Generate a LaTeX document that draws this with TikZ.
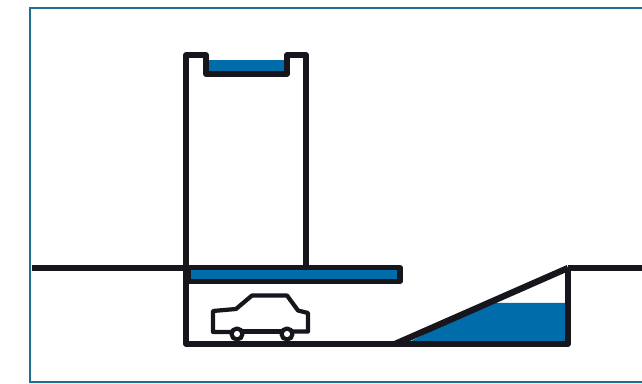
\documentclass[tikz,border=0pt]{standalone}
\usepackage{xcolor}
\usetikzlibrary{calc}
\definecolor{TankBlue}{RGB}{0,108,170}
\definecolor{FrameTeal}{RGB}{30,112,145}
\definecolor{WallBlack}{RGB}{22,22,28}

\begin{document}
\begin{tikzpicture}[
            wall/.style={WallBlack, line width=3pt, line join=round},
            thinwall/.style={WallBlack, line width=2.4pt, line join=round},
            tank/.style={fill=TankBlue, draw=none}
          ]
          \useasboundingbox (0,0) rectangle (12.84,7.68);
          % Frame, open on the right
          \draw[FrameTeal, line width=1.4pt] (12.84,7.52) -- (0.60,7.52) -- (0.60,0.04) -- (12.84,0.04);

          % Roof tank
          \fill[tank] (4.12,6.48) rectangle (5.76,6.20);
          % Ramp tank
          \fill[tank] (8.10,0.80) -- (9.76,1.62) -- (11.36,1.62) -- (11.36,0.80) -- cycle;

          % Ground
          \draw[wall] (0.64,2.32) -- (3.72,2.32);
          \draw[wall] (11.36,2.32) -- (12.84,2.32);

          % Building
          \draw[wall] (3.72,2.32) -- (3.72,6.58) -- (4.12,6.58) -- (4.12,6.20)
                -- (5.74,6.20) -- (5.74,6.58) -- (6.12,6.58) -- (6.12,2.32);

          % Floor slab
          \draw[wall, fill=TankBlue] (3.76,2.05) rectangle (8.00,2.33);

          % Basement and ramp
          \draw[wall] (3.72,2.32) -- (3.72,0.80) -- (11.36,0.80) -- (11.36,2.32);
          \draw[wall, line width=3.6pt] (7.90,0.80) -- (11.36,2.32);

          % Car
          \draw[thinwall] (4.74,1.04) -- (4.26,1.04) -- (4.26,1.46) -- (4.72,1.50)
                -- (5.04,1.77) -- (5.74,1.77) -- (5.96,1.47) -- (6.16,1.42)
                -- (6.16,1.05) -- (5.74,1.05);
          \draw[thinwall] (4.74,1.05) -- (5.74,1.05);
          \draw[thinwall, fill=white] (4.74,1.00) circle (0.11);
          \draw[thinwall, fill=white] (5.74,1.00) circle (0.11);
        \end{tikzpicture}
\end{document}
